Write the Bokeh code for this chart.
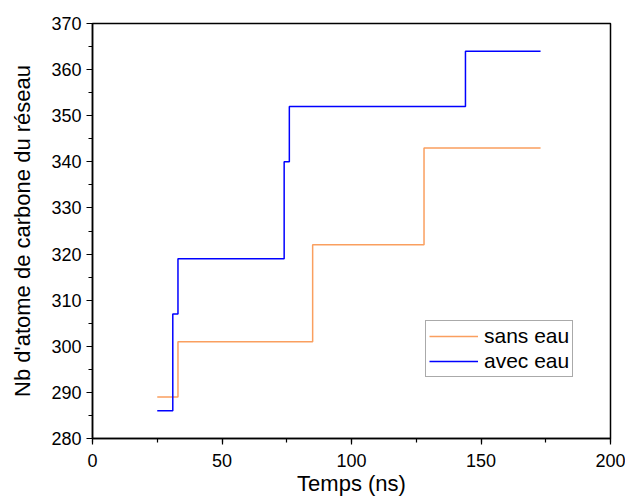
from bokeh.plotting import figure
from bokeh.models import SingleIntervalTicker, Legend, LegendItem, Range1d
from bokeh.embed import file_html
from bokeh.resources import INLINE

# Data
sans_x = [25, 33, 85, 128, 173]
sans_y = [289, 301, 322, 343, 343]
avec_x = [25, 31, 33, 74, 76, 144, 173]
avec_y = [286, 307, 319, 340, 352, 364, 364]
series_names = ["sans eau", "avec eau"]
x_label = "Temps (ns)"
y_label = "Nb d'atome de carbone du réseau"

FONT = "Liberation Sans"

p = figure(width=625, height=500, output_backend="svg", toolbar_location=None,
           x_range=Range1d(0, 200), y_range=Range1d(280, 370),
           min_border_left=92, min_border_top=23, min_border_right=15, min_border_bottom=62)

p.xgrid.visible = False
p.ygrid.visible = False
p.outline_line_color = "black"
p.outline_line_width = 1.5
p.background_fill_color = "white"
p.border_fill_color = "white"

p.xaxis.ticker = SingleIntervalTicker(interval=50, num_minor_ticks=2)
p.yaxis.ticker = SingleIntervalTicker(interval=10, num_minor_ticks=2)
for ax in (p.xaxis, p.yaxis):
    ax.axis_line_color = "black"
    ax.axis_line_width = 1.5
    ax.major_tick_line_color = "black"
    ax.minor_tick_line_color = "black"
    ax.major_tick_line_width = 1.2
    ax.minor_tick_line_width = 1.2
    ax.major_tick_in = 0
    ax.major_tick_out = 6
    ax.minor_tick_in = 0
    ax.minor_tick_out = 4
    ax.major_label_text_font = FONT
    ax.major_label_text_font_size = "18px"
    ax.major_label_text_color = "black"
    ax.axis_label_text_font = FONT
    ax.axis_label_text_font_size = "22px"
    ax.axis_label_text_font_style = "normal"
    ax.axis_label_text_color = "black"
p.xaxis.axis_label = x_label
p.yaxis.axis_label = y_label
p.xaxis.major_label_standoff = 9
p.yaxis.major_label_standoff = 5
p.xaxis.axis_label_standoff = 1
p.yaxis.axis_label_standoff = 13

r_sans = p.step(sans_x, sans_y, mode="after", line_color="#FA9F5F", line_width=1.5)
r_avec = p.step(avec_x, avec_y, mode="after", line_color="#0000FF", line_width=1.5)

legend = Legend(items=[LegendItem(label=series_names[0], renderers=[r_sans]),
                       LegendItem(label=series_names[1], renderers=[r_avec])],
                location=(333, 61))
legend.label_text_font = FONT
legend.label_text_font_size = "21px"
legend.label_text_color = "black"
legend.glyph_width = 49
legend.glyph_height = 24
legend.label_height = 24
legend.label_standoff = 6
legend.spacing = 1
legend.padding = 3
legend.margin = 0
legend.border_line_color = "#555555"
legend.border_line_width = 1
legend.background_fill_alpha = 1.0
p.add_layout(legend, "center")

open("out.html", "w").write(file_html(p, INLINE))
